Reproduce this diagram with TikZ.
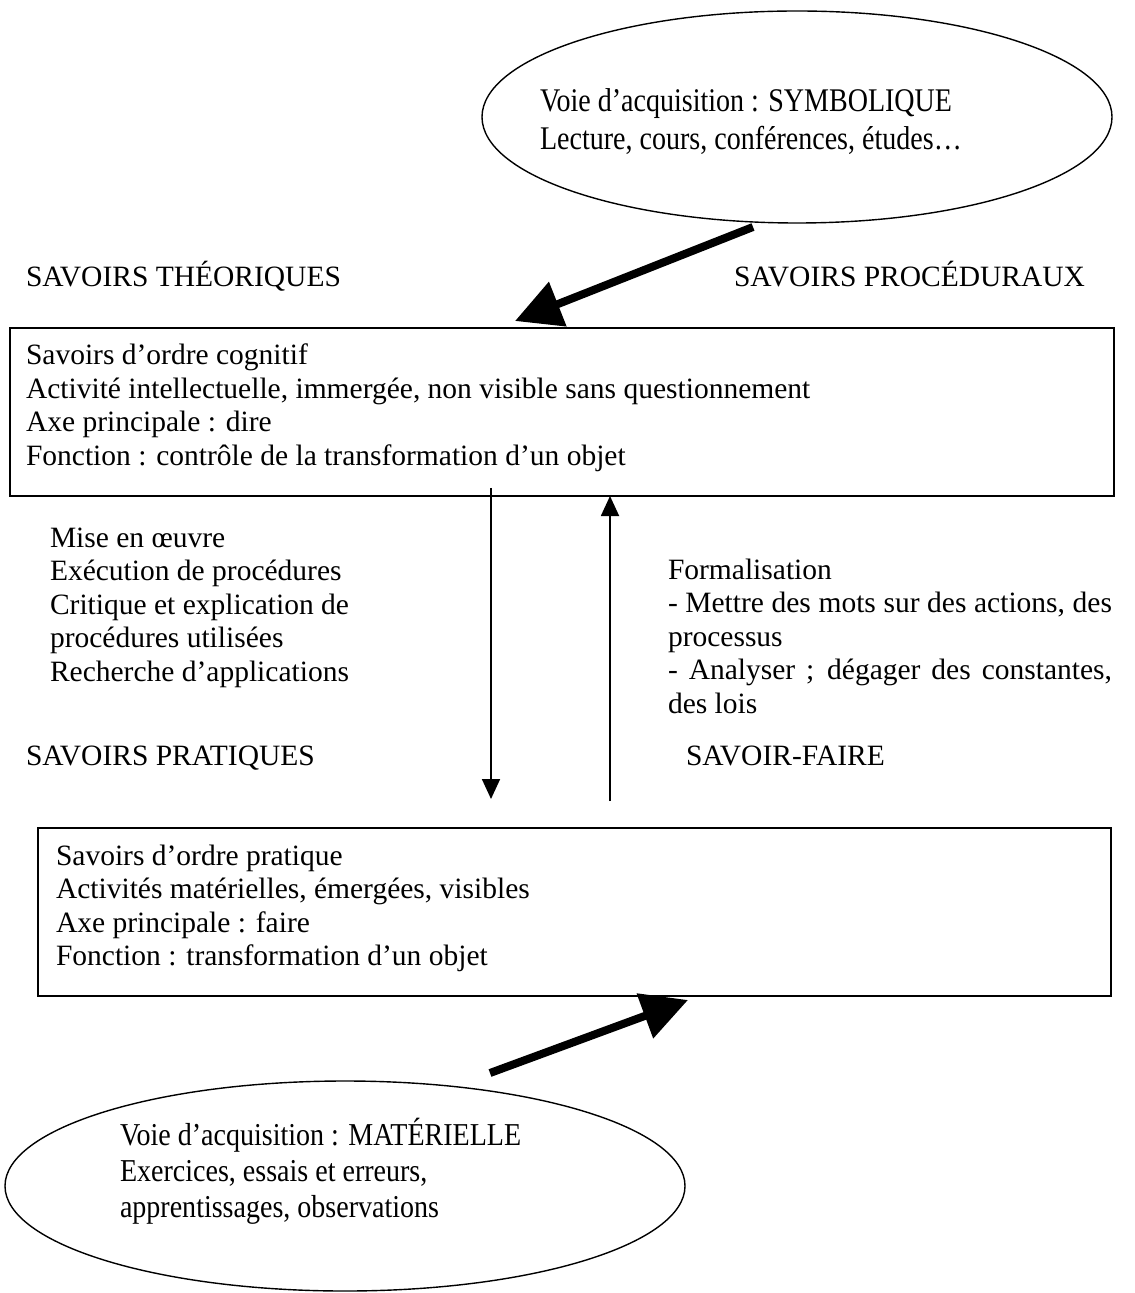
\documentclass[tikz,border=0pt]{standalone}
\usepackage{fontspec}
\usepackage{graphicx}
\setmainfont{Liberation Serif}
\usetikzlibrary{arrows.meta,shapes.geometric}
\begin{document}
\begin{tikzpicture}[x=0.5pt,y=-0.5pt,
  every node/.style={inner sep=0pt,outer sep=0pt},
  txt/.style={anchor=base west,font=\fontsize{14.75pt}{16.75pt}\selectfont},
  frame/.style={draw,line width=1pt,anchor=north west},
  bubble/.style={draw,ellipse,line width=0.7pt},
  heavy/.style={line width=4pt,-{Triangle[length=23pt,width=23pt]}},
  link/.style={line width=0.9pt,-{Triangle[length=10pt,width=9pt]}}]
\useasboundingbox (0,0) rectangle (1134,1293);

% acquisition routes (sizes in pt: 1 unit = 0.5pt)
\node[bubble,minimum width=315pt,minimum height=106pt] (sym) at (797,117) {};
\node[bubble,minimum width=340pt,minimum height=105pt] (mat) at (345,1186) {};
\node[txt] (symtxt) at (540,112) {\scalebox{0.95}[1.12]{\parbox[t]{250pt}{\raggedright
  Voie d’acquisition : SYMBOLIQUE\\
  Lecture, cours, conférences, études…}}};
\node[txt] (mattxt) at (120,1145) {\scalebox{0.95}[1.08]{\parbox[t]{250pt}{\raggedright
  Voie d’acquisition : MATÉRIELLE\\
  Exercices, essais et erreurs,\\
  apprentissages, observations}}};

% headings
\node[txt] (theo) at (26,287) {SAVOIRS THÉORIQUES};
\node[txt] (proc) at (734,287) {SAVOIRS PROCÉDURAUX};
\node[txt] (prat) at (26,765) {SAVOIRS PRATIQUES};
\node[txt] (sf) at (686,765) {SAVOIR-FAIRE};

% the two boxes
\node[frame,minimum width=552pt,minimum height=84pt] (cog) at (10,328) {};
\node[txt] (cogtxt) at (26,365) {\parbox[t]{540pt}{\raggedright
  Savoirs d’ordre cognitif\\
  Activité intellectuelle, immergée, non visible sans questionnement\\
  Axe principale : dire\\
  Fonction : contrôle de la transformation d’un objet}};
\node[frame,minimum width=536.5pt,minimum height=84pt] (pra) at (38,828) {};
\node[txt] (pratxt) at (56,865) {\parbox[t]{520pt}{\raggedright
  Savoirs d’ordre pratique\\
  Activités matérielles, émergées, visibles\\
  Axe principale : faire\\
  Fonction : transformation d’un objet}};

% labels of the vertical links
\node[txt] (mise) at (50,547) {\parbox[t]{200pt}{\raggedright
  Mise en œuvre\\
  Exécution de procédures\\
  Critique et explication de\\
  procédures utilisées\\
  Recherche d’applications}};
\node[txt] (formal) at (668,579) {\parbox[t]{222pt}{%
  Formalisation\\
  - Mettre des mots sur des actions, des\linebreak processus\\
  - Analyser ; dégager des constantes,\linebreak des lois}};

% connectors
\coordinate (symfoot) at (753,227);
\coordinate (theotip) at (515,321);
\coordinate (matfoot) at (490,1073);
\coordinate (pratip) at (688,1000);
\coordinate (downtop) at (491,488);
\coordinate (downtip) at (491,799);
\coordinate (upfoot) at (610,801);

\draw[heavy] (symfoot) -- (theotip);
\draw[heavy] (matfoot) -- (pratip);
\draw[link] (downtop) -- (downtip);
\draw[link] (upfoot) -- (upfoot |- cog.south);
\end{tikzpicture}
\end{document}
